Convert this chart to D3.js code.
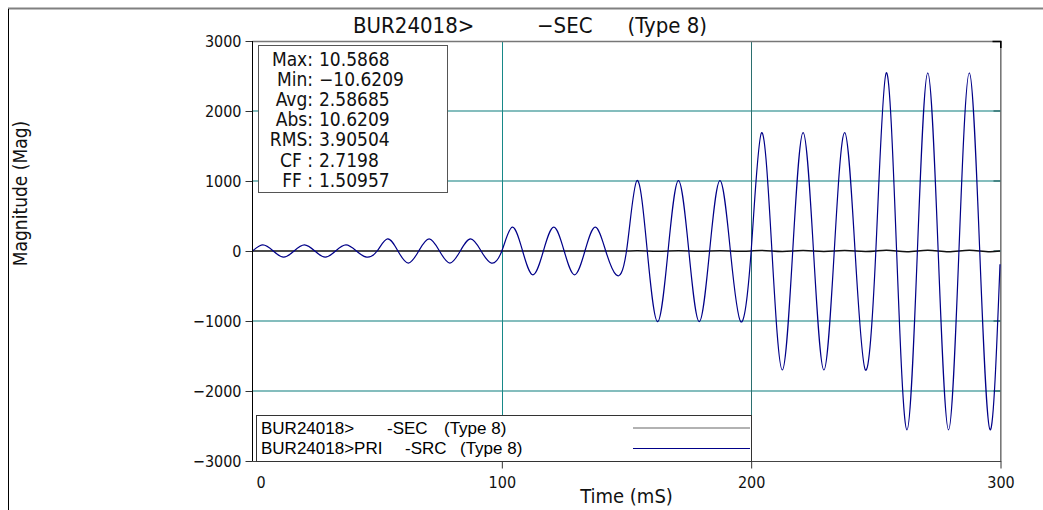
<!DOCTYPE html>
<html><head><meta charset="utf-8">
<script src="https://cdn.jsdelivr.net/npm/d3@7"></script>
<style>
html,body{margin:0;padding:0;background:#fff;}
svg{display:block;}
.cf{font-family:"DejaVu Sans Condensed","DejaVu Sans",sans-serif;font-stretch:condensed;}
.lg{font-family:"Liberation Sans",Arial,sans-serif;}
</style></head><body>
<svg id="c" width="1043" height="510"></svg>
<script>
// ---- data ----
const timeMs = [
  0, 4.17, 8.33, 12.5, 16.67, 20.83, 25, 29.17, 33.33, 37.5, 41.67, 45.83,
  50, 54.17, 58.33, 62.5, 66.67, 70.83, 75, 79.17, 83.33, 87.5, 91.67, 95.83,
  100, 104.17, 108.33, 112.5, 116.67, 120.83, 125, 129.17, 133.33, 137.5, 141.67, 145.83,
  150, 154.17, 158.33, 162.5, 166.67, 170.83, 175, 179.17, 183.33, 187.5, 191.67, 195.83,
  200, 204.17, 208.33, 212.5, 216.67, 220.83, 225, 229.17, 233.33, 237.5, 241.67, 245.83,
  250, 254.17, 258.33, 262.5, 266.67, 270.83, 275, 279.17, 283.33, 287.5, 291.67, 295.83,
  299.8
];
const srcValues = [
  0, 88, 0, -88, 0, 88, 0, -88, 0, 88, 0, -88,
  0, 172, 0, -172, 0, 172, 0, -172, 0, 172, 0, -172,
  0, 340, 0, -340, 0, 340, 0, -340, 0, 340, 0, -340,
  0, 1005, 0, -1010, 0, 1005, 0, -1010, 0, 1005, 0, -1010,
  0, 1690, 0, -1700, 0, 1690, 0, -1700, 0, 1690, 0, -1700,
  0, 2545, 0, -2555, 0, 2545, 0, -2555, 0, 2545, 0, -2555,
  -190
];
const secValues = [
  0, 0.37, 0, -0.37, 0, 0.37, 0, -0.37, 0, 0.37, 0, -0.37,
  0, 0.72, 0, -0.72, 0, 0.72, 0, -0.72, 0, 0.72, 0, -0.72,
  0, 1.43, 0, -1.43, 0, 1.43, 0, -1.43, 0, 1.43, 0, -1.43,
  0, 4.2, 0, -4.2, 0, 4.2, 0, -4.2, 0, 4.2, 0, -4.2,
  0, 7.05, 0, -7.1, 0, 7.05, 0, -7.1, 0, 7.05, 0, -7.1,
  0, 10.59, 0, -10.62, 0, 10.59, 0, -10.62, 0, 10.59, 0, -10.62,
  -0.8
];
const xTicks = [0, 100, 200, 300];
const yTicks = [-3000, -2000, -1000, 0, 1000, 2000, 3000];
const yGrid = [-2000, -1000, 1000, 2000];
const xGrid = [100, 200];
const statLabels = ["Max:", "Min:", "Avg:", "Abs:", "RMS:", "CF :", "FF :"];
const statValues = [10.5868, -10.6209, 2.58685, 10.6209, 3.90504, 2.7198, 1.50957];
const legendNames = [["BUR24018>", "-SEC", "(Type 8)"], ["BUR24018>PRI", "-SRC", "(Type 8)"]];
const legendColors = ["#666666", "#000088"];
const titleParts = ["BUR24018>", "\u2212SEC", "(Type 8)"];

// ---- layout ----
const svg = d3.select("#c");
const x = d3.scaleLinear().domain([0, 300]).range([252.5, 1000.5]);
const y = d3.scaleLinear().domain([-3000, 3000]).range([461, 41]);
const fmt = d3.format("d");

// outer frame
svg.append("line").attr("x1", 8).attr("x2", 1043).attr("y1", 8.5).attr("y2", 8.5)
  .attr("stroke", "#808080").attr("stroke-width", 2);
svg.append("line").attr("x1", 8.5).attr("x2", 8.5).attr("y1", 9).attr("y2", 510)
  .attr("stroke", "#000").attr("stroke-width", 1);

// title
const tt = svg.append("text").attr("class", "cf").attr("y", 33).attr("font-size", 22).attr("fill", "#111");
tt.append("tspan").attr("x", 353).text(titleParts[0]);
tt.append("tspan").attr("x", 537).text(titleParts[1]);
tt.append("tspan").attr("x", 707).attr("text-anchor", "end").text(titleParts[2]);

// grid
svg.append("g").selectAll("line").data(yGrid).join("line")
  .attr("x1", x(0)).attr("x2", x(300)).attr("y1", d => y(d)).attr("y2", d => y(d))
  .attr("stroke", "#0a7d7d").attr("stroke-width", 1.1);
svg.append("g").selectAll("line").data(xGrid).join("line")
  .attr("x1", d => Math.round(x(d)) + 0.5).attr("x2", d => Math.round(x(d)) + 0.5)
  .attr("y1", 41).attr("y2", 461)
  .attr("stroke", d => d === 200 ? "#2b6f6f" : "#178888").attr("stroke-width", 1);

// frame top/right
svg.append("line").attr("x1", 252.5).attr("x2", 1001).attr("y1", 41.5).attr("y2", 41.5)
  .attr("stroke", "#777").attr("stroke-width", 1.6);
svg.append("line").attr("x1", 1000.8).attr("x2", 1000.8).attr("y1", 41).attr("y2", 461)
  .attr("stroke", "#777").attr("stroke-width", 1.6);
svg.append("path").attr("d", `M${x(300) - 8},41.5H${x(300) + 0.3}V48`)
  .attr("fill", "none").attr("stroke", "#000").attr("stroke-width", 1.6);
// right inner ticks
svg.append("g").selectAll("line").data(yTicks.slice(1, -1)).join("line")
  .attr("x1", x(300) - 7).attr("x2", x(300)).attr("y1", d => y(d)).attr("y2", d => y(d))
  .attr("stroke", "#1d5f5f").attr("stroke-width", 1.2);

// series
const line = (vals) => d3.line().x((d, i) => x(timeMs[i])).y(d => y(d)).curve(d3.curveNatural)(vals);
svg.append("path").attr("d", line(secValues)).attr("fill", "none")
  .attr("stroke", "#111").attr("stroke-width", 1.5);
svg.append("path").attr("d", line(srcValues)).attr("fill", "none")
  .attr("stroke", "#000088").attr("stroke-width", 1.2);

// axes
const yAxis = d3.axisLeft(y).tickValues(yTicks).tickFormat(fmt).tickSize(7).tickPadding(4);
const gy = svg.append("g").attr("transform", "translate(252.5,0)").call(yAxis);
gy.select(".domain").remove();
gy.selectAll(".tick line").attr("stroke", "#333");
gy.selectAll(".tick text").attr("class", "cf").attr("font-size", 16).attr("fill", "#111");
svg.append("line").attr("x1", 252.5).attr("x2", 252.5).attr("y1", 41).attr("y2", 461.5)
  .attr("stroke", "#000").attr("stroke-width", 1);

const xAxis = d3.axisBottom(x).tickValues(xTicks).tickFormat(fmt).tickSize(7).tickPadding(8);
const gx = svg.append("g").attr("transform", "translate(0,461.5)").call(xAxis);
gx.select(".domain").remove();
gx.selectAll(".tick line").attr("stroke", "#333");
gx.selectAll(".tick text").attr("class", "cf").attr("font-size", 16).attr("fill", "#111")
  .attr("dx", d => d === 0 ? 8 : 0);
gx.selectAll(".tick").filter(d => d === 0).select("line").remove();
svg.append("line").attr("x1", 252.5).attr("x2", 1001.5).attr("y1", 461.5).attr("y2", 461.5)
  .attr("stroke", "#444").attr("stroke-width", 1);

// axis titles
svg.append("text").attr("class", "cf").attr("x", 626.5).attr("y", 503).attr("text-anchor", "middle")
  .attr("font-size", 20).attr("fill", "#111").text("Time (mS)");
svg.append("text").attr("class", "cf").attr("transform", "translate(27,193.5) rotate(-90)")
  .attr("text-anchor", "middle").attr("font-size", 19).attr("fill", "#111").text("Magnitude (Mag)");

// stats box
svg.append("rect").attr("x", 258.5).attr("y", 45.5).attr("width", 189).attr("height", 147)
  .attr("fill", "#fff").attr("stroke", "#555").attr("stroke-width", 1);
const sg = svg.append("g").attr("class", "cf").attr("font-size", 19).attr("fill", "#111");
statLabels.forEach((lab, i) => {
  const t = sg.append("text").attr("y", 65.5 + i * 20.2);
  t.append("tspan").attr("x", 313).attr("text-anchor", "end").text(lab);
  t.append("tspan").attr("x", 319).attr("text-anchor", "start")
    .text(String(statValues[i]).replace("-", "\u2212"));
});

// legend
svg.append("rect").attr("x", 256.5).attr("y", 415.5).attr("width", 495).attr("height", 46)
  .attr("fill", "#fff").attr("stroke", "#333").attr("stroke-width", 1);
const pieceX = [[261, 387, 444], [261, 405, 460]];
legendNames.forEach((row, r) => {
  const t = svg.append("text").attr("class", "lg").attr("y", 433.5 + r * 20).attr("font-size", 17).attr("fill", "#000");
  row.forEach((s, k) => t.append("tspan").attr("x", pieceX[r][k]).text(s));
  svg.append("line").attr("x1", 633).attr("x2", 750).attr("y1", 428 + r * 20.5).attr("y2", 428 + r * 20.5)
    .attr("stroke", legendColors[r]).attr("stroke-width", 1.2);
});
</script>
</body></html>
